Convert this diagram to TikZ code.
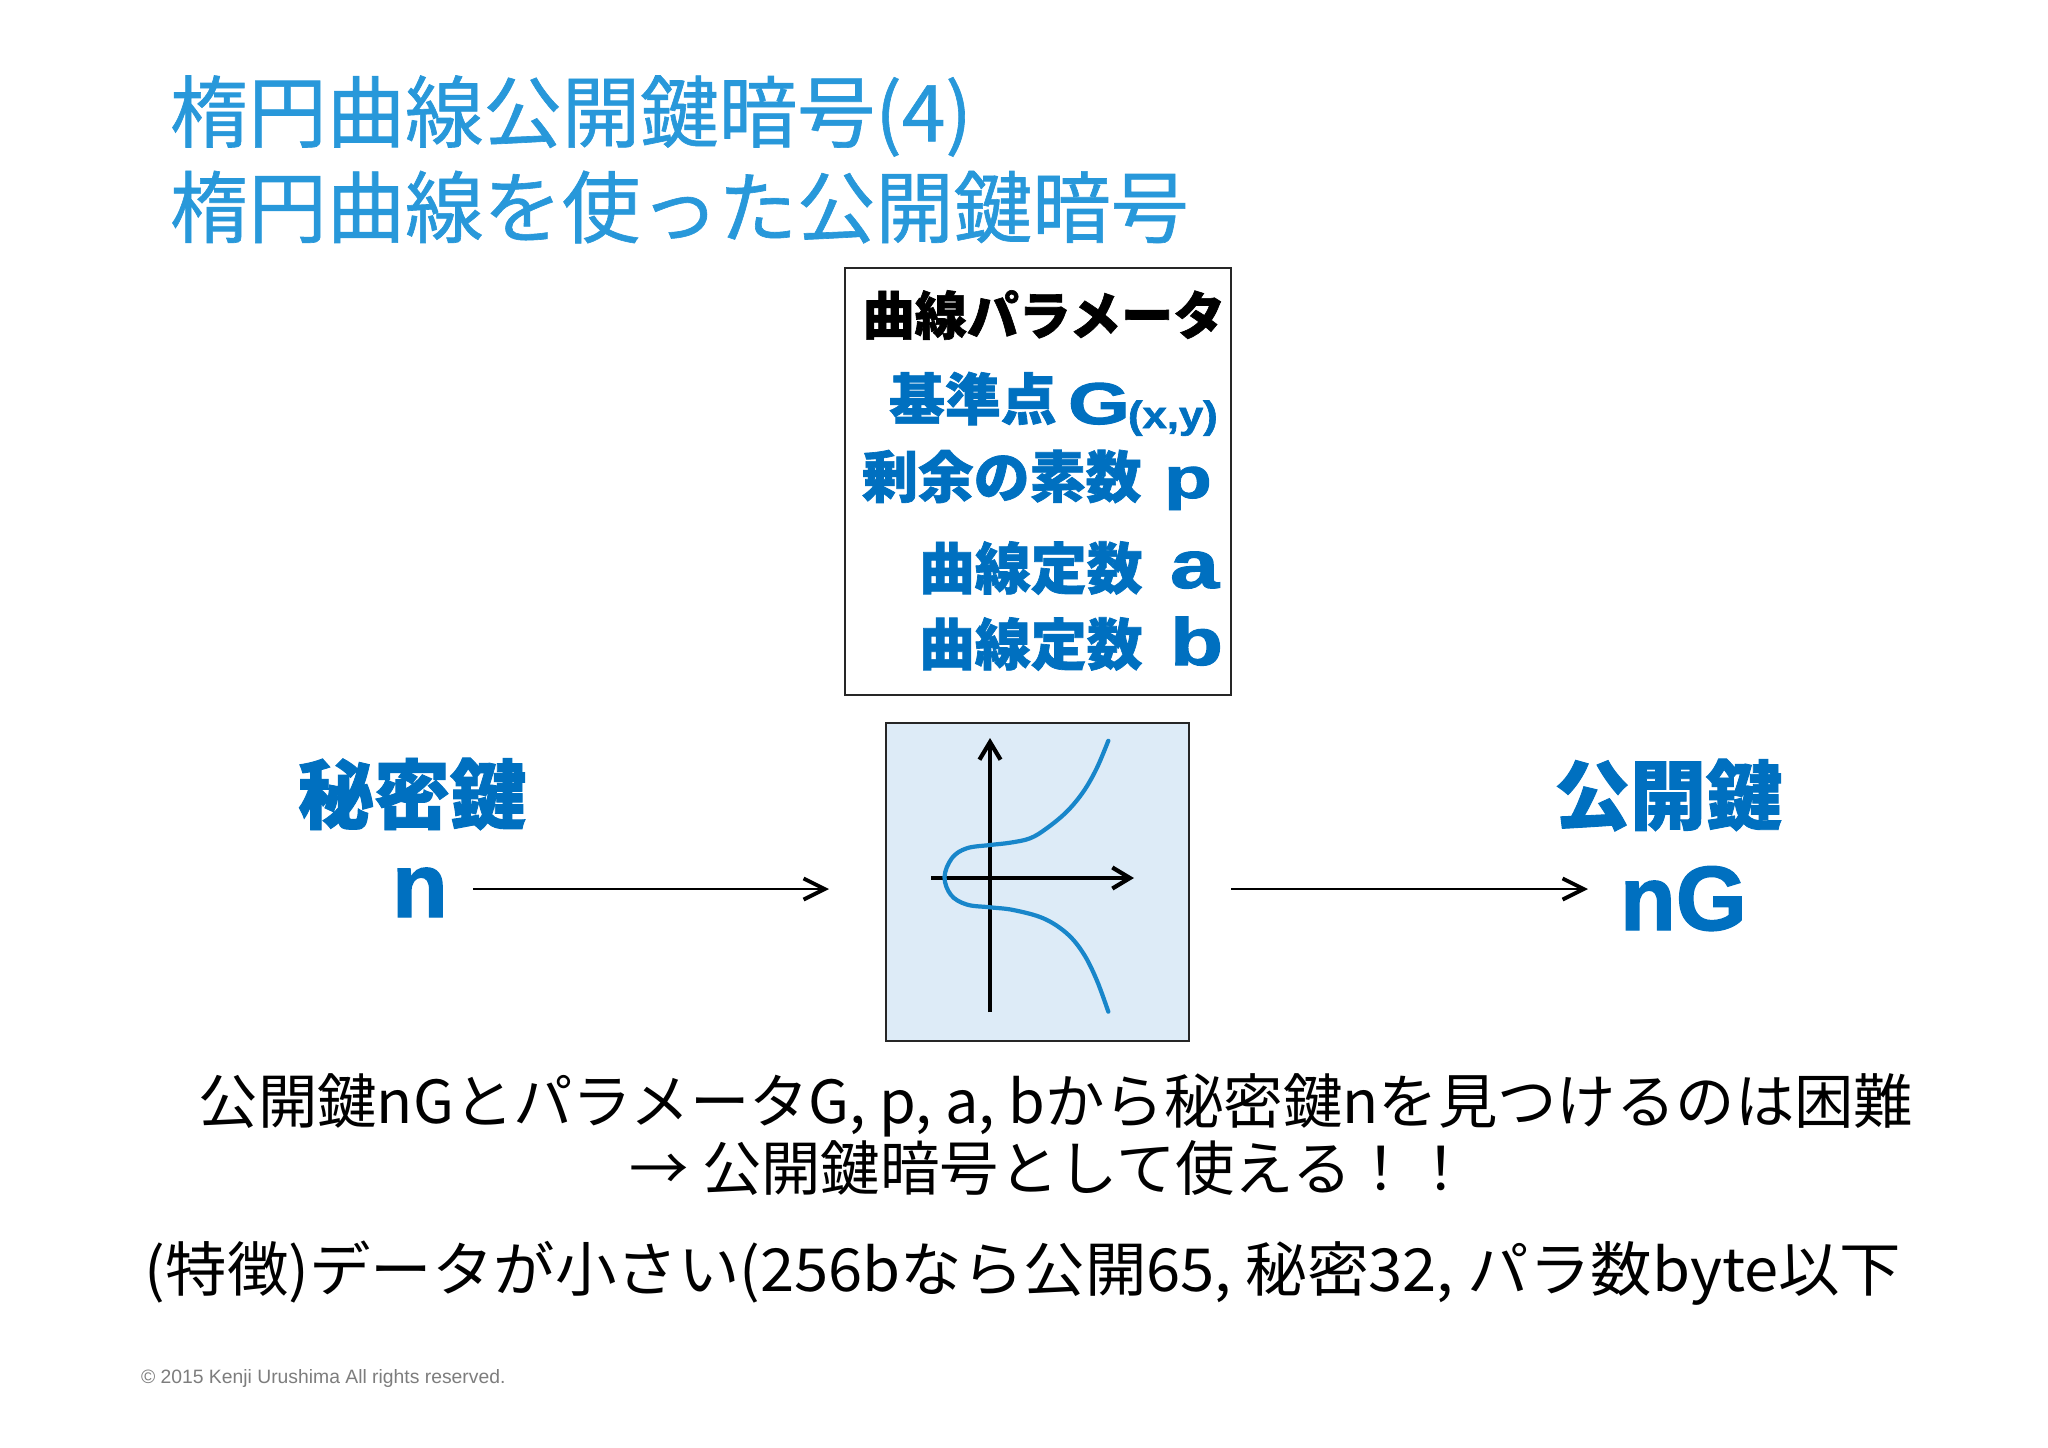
\documentclass[tikz,border=0pt]{standalone}
\usepackage{fontspec}
\usepackage{graphicx}
\usetikzlibrary{arrows.meta}
\newfontfamily\jp{Noto Sans CJK JP}
\newfontfamily\jptitle{Noto Sans CJK JP}[FakeBold=0.8]
\newfontfamily\jpheavy{Noto Sans CJK JP}[BoldFeatures={FakeBold=1.2}]
\newfontfamily\lat{Liberation Sans}
\newfontfamily\latheavy{Liberation Sans}[BoldFeatures={FakeBold=1.5}]
\definecolor{titleblue}{RGB}{40,152,218}
\definecolor{keyblue}{RGB}{0,112,192}
\definecolor{curveblue}{RGB}{24,134,202}
\definecolor{panelfill}{RGB}{221,235,247}
\definecolor{copygray}{RGB}{125,125,125}
\newcommand\setfs[1]{\fontsize{#1}{#1}\selectfont}
\begin{document}
\begin{tikzpicture}[x=0.1mm,y=-0.1mm,
  txt/.style={inner sep=0pt,outer sep=0pt},
  titletxt/.style={txt,anchor=west,text=titleblue,font=\jptitle\setfs{22.3pt}},
  boxcjk/.style={txt,anchor=west,text=keyblue,font=\jpheavy\bfseries\setfs{15.9pt}},
  latbig/.style={txt,anchor=base west,text=keyblue},
  keylabel/.style={txt,text=keyblue,font=\jpheavy\bfseries\setfs{21.6pt}},
  keyletter/.style={txt,anchor=base west,text=keyblue,font=\latheavy\bfseries\setfs{26pt}},
  body/.style={txt,font=\jp\setfs{16.9pt}},
  frame/.style={draw=black!85,line width=0.6pt,inner sep=0pt},
  conn/.style={line width=0.6pt,-{Straight Barb[length=6pt,width=6pt,line width=1.1pt]}},
  axis/.style={line width=1.2pt,-{Straight Barb[length=5pt,width=6pt]}}
]
\useasboundingbox[fill=white] (0,0) rectangle (2048,1447);

% title
\node[titletxt] (t1) at (170,116) {楕円曲線公開鍵暗号(4)};
\node[titletxt] (t2) at (170,207) {楕円曲線を使った公開鍵暗号};

% parameter box
\node[frame,minimum width=38.6mm,minimum height=42.7mm] (params) at (1038,481.5) {};
\node[txt,font=\jpheavy\bfseries\setfs{14.8pt}] (ptitle) at (1044,315) {曲線パラメータ};
\node[boxcjk] (r1) at (889,398.5) {基準点};
\node[latbig,font=\latheavy\bfseries\setfs{16.8pt}] (r1g) at (1068,424) {\scalebox{1.35}[1]{G}};
\node[latbig,font=\latheavy\bfseries\setfs{10.8pt}] (r1xy) at (1128,428) {\scalebox{1.15}[1]{(x,y)}};
\node[boxcjk] (r2) at (862,476.5) {剰余の素数};
\node[latbig,font=\latheavy\bfseries\setfs{16.5pt}] (r2p) at (1164,498) {\scalebox{1.35}[1]{p}};
\node[boxcjk] (r3) at (919,568) {曲線定数};
\node[latbig,font=\latheavy\bfseries\setfs{19.3pt}] (r3a) at (1170,588) {\scalebox{1.3}[1]{a}};
\node[boxcjk] (r4) at (919,644) {曲線定数};
\node[latbig,font=\latheavy\bfseries\setfs{19pt}] (r4b) at (1170,665) {\scalebox{1.3}[1]{b}};

% curve panel
\node[frame,fill=panelfill,minimum width=30.3mm,minimum height=31.8mm] (curvebox) at (1037.5,882) {};
\draw[axis] (990,1012) -- (990,738);
\draw[axis] (931,878) -- (1134,878);
\draw[curveblue,line width=1.2pt,line cap=round] plot[smooth,tension=0.6] coordinates {
 (1108.3,740.7) (1096.7,768.3) (1083.3,791.7) (1066.7,811.7) (1046.7,828.3) (1030,838.3)
 (1010,842.7) (990,845) (966.7,848.3) (952,858) (944.5,877) (951,895) (966.7,904.5)
 (990,907.3) (1013.3,910) (1043.3,918.3) (1066.7,933.3) (1083.3,953.3) (1096.7,980) (1108.3,1011.7)};

% keys
\node[keylabel] (secret) at (412,794) {秘密鍵};
\node[keyletter] (n) at (392,917) {n};
\node[keylabel] (public) at (1668,795) {公開鍵};
\node[keyletter] (nG) at (1620,930) {nG};

\coordinate (a1s) at (473,889);
\coordinate (a1e) at (829,889);
\coordinate (a2s) at (1231,889);
\coordinate (a2e) at (1588,889);
\draw[conn] (a1s) -- (a1e);
\draw[conn] (a2s) -- (a2e);

% bottom text
\node[body] (b1) at (1056,1105) {公開鍵nGとパラメータG, p, a, bから秘密鍵nを見つけるのは困難};
\node[body] (b2) at (1050,1168) {→ 公開鍵暗号として使える！！};
\node[body] (b3) at (1023,1273) {\scalebox{1.035}[1]{(特徴)データが小さい(256bなら公開65, 秘密32, パラ数byte以下}};

\node[txt,anchor=west,text=copygray,font=\lat\setfs{5.5pt}] (copy) at (141,1378) {© 2015 Kenji Urushima All rights reserved.};
\end{tikzpicture}
\end{document}
